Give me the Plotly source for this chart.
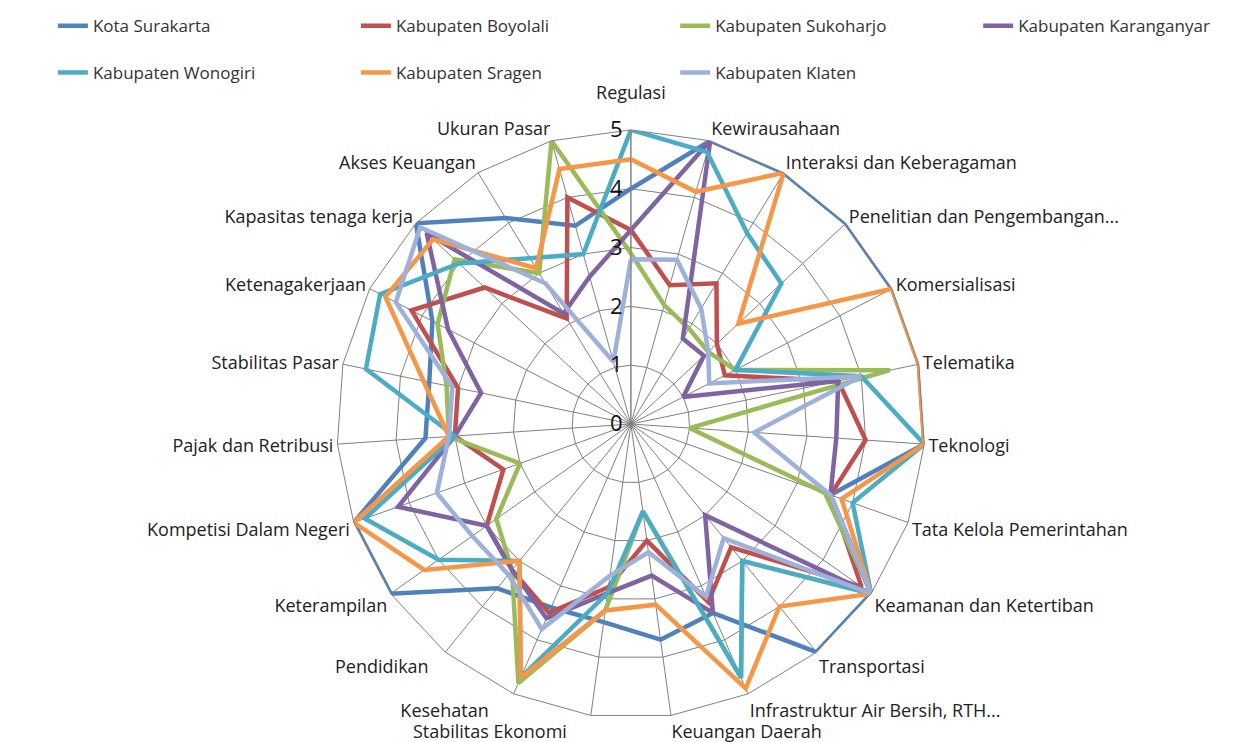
import plotly.graph_objects as go

# categories, clockwise from the top
categories = [
    "Regulasi", "Kewirausahaan", "Interaksi dan Keberagaman",
    "Penelitian dan Pengembangan...", "Komersialisasi", "Telematika",
    "Teknologi", "Tata Kelola Pemerintahan", "Keamanan dan Ketertiban",
    "Transportasi", "Infrastruktur Air Bersih, RTH...", "Keuangan Daerah",
    "Stabilitas Ekonomi", "Kesehatan", "Pendidikan", "Keterampilan",
    "Kompetisi Dalam Negeri", "Pajak dan Retribusi", "Stabilitas Pasar",
    "Ketenagakerjaan", "Kapasitas tenaga kerja", "Akses Keuangan", "Ukuran Pasar",
]

surakarta = [4.0, 5, 5, 5, 5, 5, 5, 3.6, 5, 5, 3.5, 3.7, 3.4, 3.4, 3.6, 5, 5, 3.5, 3.5, 3.8, 5, 4.1, 3.5]
boyolali = [3.3, 2.45, 2.8, 2.0, 1.8, 3.6, 4.0, 3.6, 4.8, 2.7, 3.3, 2.0, 2.8, 3.5, 3.2, 3.0, 2.3, 3.0, 3.0, 4.2, 3.4, 2.1, 4.0]
sukoharjo = [2.9, 2.1, 1.9, 1.8, 2.0, 4.5, 1.0, 3.5, 5, 3.0, 4.7, 1.5, 3.2, 4.8, 3.2, 2.8, 2.0, 3.1, 3.2, 3.7, 4.1, 3.0, 5]
karanganyar = [3.3, 5, 1.7, 1.7, 1.0, 3.6, 3.5, 3.6, 5, 2.0, 3.5, 2.6, 2.9, 3.6, 3.2, 3.0, 4.2, 3.0, 2.6, 3.5, 4.75, 2.2, 2.6]
wonogiri = [5, 4.8, 3.8, 3.5, 2.0, 4.0, 5, 4.0, 5, 3.0, 4.7, 1.5, 2.9, 4.7, 3.0, 4.0, 4.8, 3.0, 4.6, 4.8, 4.0, 3.3, 3.0]
sragen = [4.5, 4.1, 5, 2.5, 5, 5, 5, 3.8, 5, 4.0, 4.9, 3.1, 3.2, 4.7, 3.0, 4.3, 5, 3.1, 3.6, 4.7, 4.6, 3.1, 4.5]
klaten = [2.8, 2.9, 2.3, 1.8, 1.5, 4.0, 2.1, 3.6, 5, 2.5, 3.2, 2.2, 2.6, 3.8, 3.3, 3.3, 3.5, 3.1, 3.1, 4.5, 4.9, 2.8, 1.1]

series = [
    ("Kota Surakarta", surakarta, "#4F81BD"),
    ("Kabupaten Boyolali", boyolali, "#C0504D"),
    ("Kabupaten Sukoharjo", sukoharjo, "#9BBB59"),
    ("Kabupaten Karanganyar", karanganyar, "#8064A2"),
    ("Kabupaten Wonogiri", wonogiri, "#4BACC6"),
    ("Kabupaten Sragen", sragen, "#F79646"),
    ("Kabupaten Klaten", klaten, "#9DB1DB"),
]

# shown labels: Regulasi pushed above the "5", a few bottom ones nudged left
nb = "\u00a0"
tick_labels = list(categories)
tick_labels[0] = "Regulasi<br>" + nb
tick_labels[12] = "Stabilitas Ekonomi" + nb * 5
tick_labels[13] = "Kesehatan" + nb * 5
tick_labels[14] = "Pendidikan" + nb * 3

# legend slots: 4 on the first row, 3 on the second
legend_x = [0.036, 0.279, 0.535, 0.778, 0.036, 0.279, 0.535]
legend_y = [0.978, 0.978, 0.978, 0.978, 0.915, 0.915, 0.915]

fig = go.Figure()
legends = {}
for i, (name, vals, color) in enumerate(series):
    key = "legend" if i == 0 else f"legend{i + 1}"
    fig.add_trace(go.Scatterpolar(
        r=vals + vals[:1],  # close the loop
        theta=categories + categories[:1],
        mode="lines",
        name=name,
        showlegend=True,
        line=dict(color=color, width=4.5),
        legend=key,
    ))
    legends[key] = dict(
        x=legend_x[i], y=legend_y[i], xanchor="left", yanchor="middle",
        font=dict(size=17, color="#333"), bgcolor="rgba(0,0,0,0)",
    )

fig.update_layout(
    width=1247, height=742,
    showlegend=True,
    margin=dict(l=0, r=0, t=0, b=0),
    paper_bgcolor="white",
    font=dict(family="Open Sans, Lato, sans-serif", size=17, color="#222"),
    polar=dict(
        domain=dict(x=[0.263, 0.736], y=[0.043, 0.838]),
        bgcolor="white",
        gridshape="linear",
        angularaxis=dict(
            direction="clockwise", rotation=90,
            tickmode="array", tickvals=categories, ticktext=tick_labels,
            gridcolor="#808080", linecolor="#808080", linewidth=1,
            tickfont=dict(size=18, color="#222"), ticks="",
        ),
        radialaxis=dict(
            range=[0, 5], tickvals=[0, 1, 2, 3, 4, 5],
            angle=90, tickangle=90, side="counterclockwise",
            gridcolor="#808080", linecolor="#808080", showline=True,
            tickfont=dict(size=22, color="#111"), ticks="",
        ),
    ),
    **legends,
)

fig.write_html("out.html")
